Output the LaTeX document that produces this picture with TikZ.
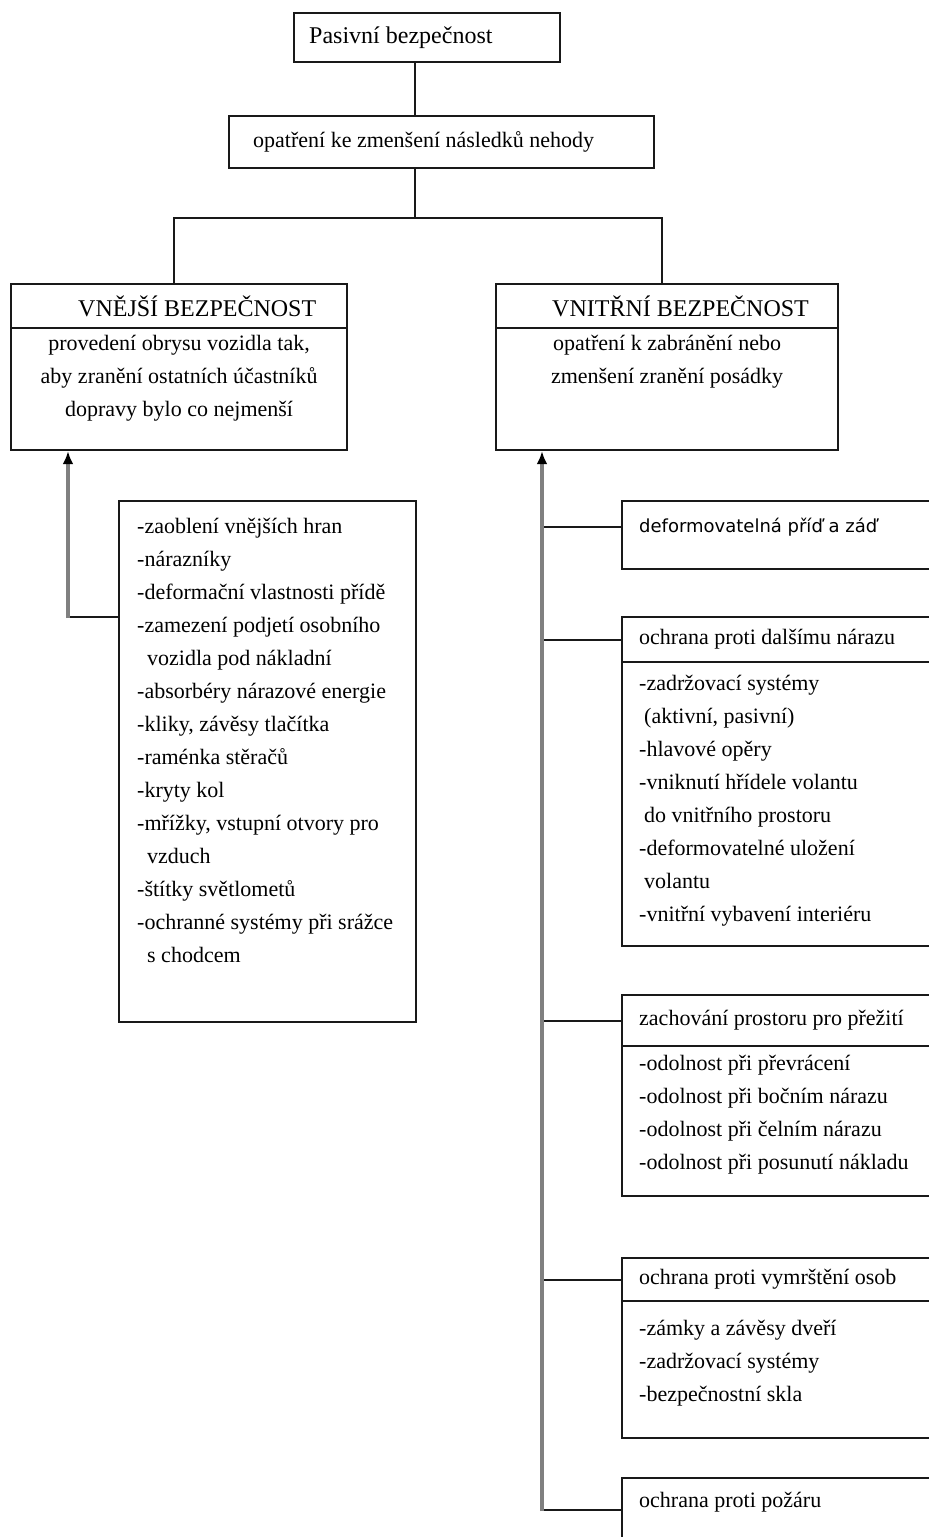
\documentclass[tikz,border=0pt]{standalone}
\usepackage{fontspec}
\setmainfont{Liberation Serif}
\newfontfamily\labelsans{DejaVu Sans}
\usetikzlibrary{positioning,arrows.meta}

\tikzset{
  frame/.style={draw=black!90, line width=2.2pt, anchor=north west, inner sep=0pt},
  boxtext/.style={inner sep=0pt, align=left, text=black, font=\fontsize{22}{33}\selectfont},
  headtext/.style={boxtext, font=\fontsize{24}{33}\selectfont},
  wire/.style={draw=black!90, line width=2.2pt},
  feed/.style={draw=black!50, line width=3.4pt, -{Latex[black, length=13pt, width=11pt]}}
}

\begin{document}
\begin{tikzpicture}[x=1pt, y=-1pt]
  \useasboundingbox (0,0) rectangle (929,1537);
  % hlavni vetev
  \node[frame, minimum width=266pt, minimum height=49pt] (top) at (293,12) {};
  \node[headtext, right=16pt of top.west] (toptext) {Pasivní bezpečnost};
  \node[frame, minimum width=425pt, minimum height=52pt] (mid) at (228,115) {};
  \node[boxtext, right=25pt of mid.west] (midtext) {opatření ke zmenšení následků nehody};
  \coordinate (spine) at (415,218);
  \coordinate (forkL) at (174,218);
  \coordinate (forkR) at (662,218);

  % vnejsi a vnitrni bezpecnost
  \node[frame, minimum width=336pt, minimum height=44pt] (outerhead) at (10,283) {};
  \node[frame, minimum width=336pt, minimum height=122pt] (outerbody) at (10,327) {};
  \node[headtext, right=68pt of outerhead.west] (outertitle) {VNĚJŠÍ BEZPEČNOST};
  \node[boxtext, align=center, below=8pt of outerbody.north] (outerdesc)
    {provedení obrysu vozidla tak,\\aby zranění ostatních účastníků\\dopravy bylo co nejmenší};
  \node[frame, minimum width=342pt, minimum height=44pt] (innerhead) at (495,283) {};
  \node[frame, minimum width=342pt, minimum height=122pt] (innerbody) at (495,327) {};
  \node[headtext, right=57pt of innerhead.west] (innertitle) {VNITŘNÍ BEZPEČNOST};
  \node[boxtext, align=center, below=8pt of innerbody.north] (innerdesc)
    {opatření k zabránění nebo\\zmenšení zranění posádky};

  \draw[wire] (top.south -| spine) -- (mid.north -| spine);
  \draw[wire] (mid.south -| spine) -- (spine);
  \draw[wire] (forkL |- outerhead.north) -- (forkL) -- (forkR) -- (forkR |- innerhead.north);

  % vnejsi - seznam
  \node[frame, minimum width=297pt, minimum height=521pt] (outerlist) at (118,500) {};
  \node[boxtext, below right=18pt and 19pt of outerlist.north west] (outeritems)
    {-zaoblení vnějších hran\\-nárazníky\\-deformační vlastnosti přídě\\
     -zamezení podjetí osobního\\\hspace*{10pt}vozidla pod nákladní\\
     -absorbéry nárazové energie\\-kliky, závěsy tlačítka\\-raménka stěračů\\
     -kryty kol\\-mřížky, vstupní otvory pro\\\hspace*{10pt}vzduch\\
     -štítky světlometů\\-ochranné systémy při srážce\\\hspace*{10pt}s chodcem};
  \coordinate (outerjoin) at (68,617);
  \draw[wire] (outerlist.west |- outerjoin) -- (outerjoin);
  \draw[feed] ([yshift=-1.1pt]outerjoin) -- (outerjoin |- outerbody.south);

  % vnitrni - skupiny
  \node[frame, minimum width=330pt, minimum height=68pt] (crumple) at (621,500) {};
  \node[boxtext, font=\labelsans\fontsize{18}{24}\selectfont,
        below right=18pt and 18pt of crumple.north west] (crumpletext) {deformovatelná příď a záď};

  \node[frame, minimum width=330pt, minimum height=45pt] (impacthead) at (621,616) {};
  \node[frame, minimum width=330pt, minimum height=284pt] (impactbody) at (621,661) {};
  \node[boxtext, right=18pt of impacthead.west] (impacttitle) {ochrana proti dalšímu nárazu};
  \node[boxtext, below right=14pt and 18pt of impactbody.north west] (impactitems)
    {-zadržovací systémy\\\hspace*{5pt}(aktivní, pasivní)\\-hlavové opěry\\
     -vniknutí hřídele volantu\\\hspace*{5pt}do vnitřního prostoru\\
     -deformovatelné uložení\\\hspace*{5pt}volantu\\-vnitřní vybavení interiéru};

  \node[frame, minimum width=330pt, minimum height=51pt] (spacehead) at (621,994) {};
  \node[frame, minimum width=330pt, minimum height=150pt] (spacebody) at (621,1045) {};
  \node[boxtext, right=18pt of spacehead.west] (spacetitle) {zachování prostoru pro přežití};
  \node[boxtext, below right=10pt and 18pt of spacebody.north west] (spaceitems)
    {-odolnost při převrácení\\-odolnost při bočním nárazu\\
     -odolnost při čelním nárazu\\-odolnost při posunutí nákladu};

  \node[frame, minimum width=330pt, minimum height=43pt] (ejecthead) at (621,1257) {};
  \node[frame, minimum width=330pt, minimum height=137pt] (ejectbody) at (621,1300) {};
  \node[boxtext, right=18pt of ejecthead.west] (ejecttitle) {ochrana proti vymrštění osob};
  \node[boxtext, below right=20pt and 18pt of ejectbody.north west] (ejectitems)
    {-zámky a závěsy dveří\\-zadržovací systémy\\-bezpečnostní skla};

  \node[frame, minimum width=330pt, minimum height=90pt] (fire) at (621,1477) {};
  \node[boxtext, below right=15pt and 18pt of fire.north west] (firetext) {ochrana proti požáru};

  \coordinate (trunkend) at (542,1510);
  \draw[wire] (trunkend |- crumpletext) -- (crumple.west |- crumpletext);
  \draw[wire] (trunkend |- impacthead.west) -- (impacthead.west);
  \draw[wire] (trunkend |- spacehead.west) -- (spacehead.west);
  \draw[wire] (trunkend |- ejecthead.west) -- (ejecthead.west);
  \draw[wire] (trunkend) -- (trunkend -| fire.west);
  \draw[feed] ([yshift=-1.1pt]trunkend) -- (trunkend |- innerbody.south);
\end{tikzpicture}
\end{document}
